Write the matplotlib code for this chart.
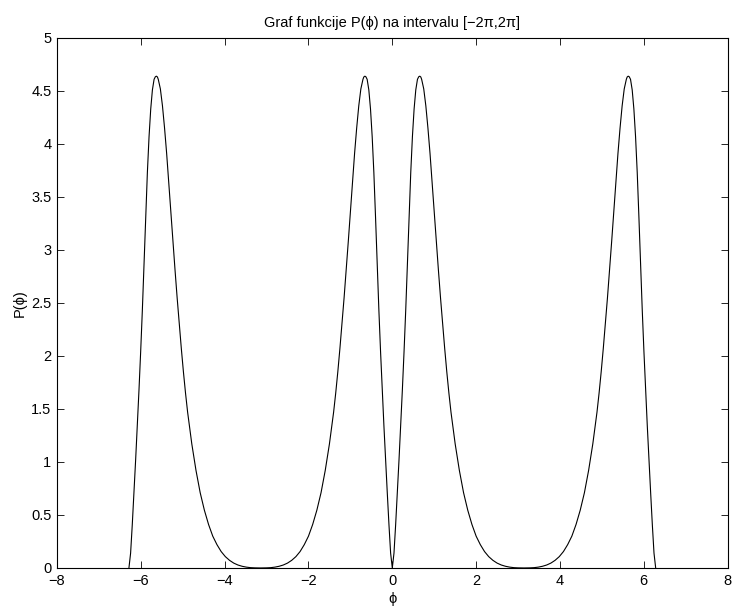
import matplotlib.pyplot as plt

plt.rcParams.update({
    'font.family': ['Liberation Sans', 'DejaVu Sans'],
    'font.size': 10.5,
    'axes.linewidth': 0.8,
    'xtick.direction': 'in',
    'ytick.direction': 'in',
    'xtick.top': True,
    'ytick.right': True,
    'xtick.major.size': 5,
    'ytick.major.size': 5,
    'xtick.major.width': 0.6,
    'ytick.major.width': 0.6,
    'figure.facecolor': 'white',
})

# curve, lobe by lobe
# outer left lobe, -2pi .. -pi
phi_a = [-6.283, -6.243, -6.203, -6.163, -6.123, -6.083, -6.043, -6.003, -5.963,
         -5.923, -5.883, -5.843, -5.803, -5.763, -5.723, -5.683, -5.653, -5.628,
         -5.603, -5.583, -5.533, -5.483, -5.433, -5.383, -5.333, -5.283, -5.233,
         -5.183, -5.133, -5.083, -5.033, -4.983, -4.933, -4.883, -4.783, -4.683,
         -4.583, -4.483, -4.383, -4.283, -4.183, -4.083, -3.983, -3.883, -3.783,
         -3.683, -3.583, -3.483, -3.383, -3.283, -3.142]
p_a = [0.0, 0.14, 0.41, 0.71, 1.02, 1.34, 1.68, 2.04, 2.43, 2.86, 3.31, 3.73, 4.07,
       4.33, 4.51, 4.61, 4.634, 4.64, 4.632, 4.61, 4.52, 4.36, 4.15, 3.91, 3.64, 3.36,
       3.08, 2.81, 2.55, 2.31, 2.07, 1.85, 1.65, 1.47, 1.17, 0.92, 0.71, 0.545, 0.41,
       0.30, 0.22, 0.155, 0.107, 0.072, 0.046, 0.028, 0.016, 0.008, 0.003, 0.001, 0.0]

# inner left lobe, -pi .. 0
phi_b = [-3.142, -3.0, -2.9, -2.8, -2.7, -2.6, -2.5, -2.4, -2.3, -2.2, -2.1, -2.0,
         -1.9, -1.8, -1.7, -1.6, -1.5, -1.4, -1.35, -1.3, -1.25, -1.2, -1.15, -1.1,
         -1.05, -1.0, -0.95, -0.9, -0.85, -0.8, -0.75, -0.7, -0.68, -0.655, -0.63,
         -0.6, -0.56, -0.52, -0.48, -0.44, -0.4, -0.36, -0.32, -0.28, -0.24, -0.2,
         -0.16, -0.12, -0.08, -0.04, 0.0]
p_b = [0.0, 0.001, 0.003, 0.008, 0.016, 0.028, 0.046, 0.072, 0.107, 0.155, 0.22,
       0.30, 0.41, 0.545, 0.71, 0.92, 1.17, 1.47, 1.65, 1.85, 2.07, 2.31, 2.55, 2.81,
       3.08, 3.36, 3.64, 3.91, 4.15, 4.36, 4.52, 4.61, 4.632, 4.64, 4.634, 4.61, 4.51,
       4.33, 4.07, 3.73, 3.31, 2.86, 2.43, 2.04, 1.68, 1.34, 1.02, 0.71, 0.41, 0.14, 0.0]

# inner right lobe, 0 .. pi
phi_c = [0.0, 0.04, 0.08, 0.12, 0.16, 0.2, 0.24, 0.28, 0.32, 0.36, 0.4, 0.44, 0.48,
         0.52, 0.56, 0.6, 0.63, 0.655, 0.68, 0.7, 0.75, 0.8, 0.85, 0.9, 0.95, 1.0,
         1.05, 1.1, 1.15, 1.2, 1.25, 1.3, 1.35, 1.4, 1.5, 1.6, 1.7, 1.8, 1.9, 2.0,
         2.1, 2.2, 2.3, 2.4, 2.5, 2.6, 2.7, 2.8, 2.9, 3.0, 3.142]
p_c = [0.0, 0.14, 0.41, 0.71, 1.02, 1.34, 1.68, 2.04, 2.43, 2.86, 3.31, 3.73, 4.07,
       4.33, 4.51, 4.61, 4.634, 4.64, 4.632, 4.61, 4.52, 4.36, 4.15, 3.91, 3.64, 3.36,
       3.08, 2.81, 2.55, 2.31, 2.07, 1.85, 1.65, 1.47, 1.17, 0.92, 0.71, 0.545, 0.41,
       0.30, 0.22, 0.155, 0.107, 0.072, 0.046, 0.028, 0.016, 0.008, 0.003, 0.001, 0.0]

# outer right lobe, pi .. 2pi
phi_d = [3.142, 3.283, 3.383, 3.483, 3.583, 3.683, 3.783, 3.883, 3.983, 4.083, 4.183,
         4.283, 4.383, 4.483, 4.583, 4.683, 4.783, 4.883, 4.933, 4.983, 5.033, 5.083,
         5.133, 5.183, 5.233, 5.283, 5.333, 5.383, 5.433, 5.483, 5.533, 5.583, 5.603,
         5.628, 5.653, 5.683, 5.723, 5.763, 5.803, 5.843, 5.883, 5.923, 5.963, 6.003,
         6.043, 6.083, 6.123, 6.163, 6.203, 6.243, 6.283]
p_d = [0.0, 0.001, 0.003, 0.008, 0.016, 0.028, 0.046, 0.072, 0.107, 0.155, 0.22,
       0.30, 0.41, 0.545, 0.71, 0.92, 1.17, 1.47, 1.65, 1.85, 2.07, 2.31, 2.55, 2.81,
       3.08, 3.36, 3.64, 3.91, 4.15, 4.36, 4.52, 4.61, 4.632, 4.64, 4.634, 4.61, 4.51,
       4.33, 4.07, 3.73, 3.31, 2.86, 2.43, 2.04, 1.68, 1.34, 1.02, 0.71, 0.41, 0.14, 0.0]

x_ticks = [-8, -6, -4, -2, 0, 2, 4, 6, 8]
y_ticks = [0, 0.5, 1, 1.5, 2, 2.5, 3, 3.5, 4, 4.5, 5]
y_tick_labels = ['0', '0.5', '1', '1.5', '2', '2.5', '3', '3.5', '4', '4.5', '5']

fig = plt.figure(figsize=(7.33, 6.07), dpi=100)
ax = fig.add_axes([0.0777, 0.0643, 0.9150, 0.8731])

phi = phi_a + phi_b[1:] + phi_c[1:] + phi_d[1:]
p = p_a + p_b[1:] + p_c[1:] + p_d[1:]
ax.plot(phi, p, color='black', linewidth=0.8)

ax.set_xlim(-8, 8)
ax.set_ylim(0, 5)
ax.set_xticks(x_ticks)
ax.set_yticks(y_ticks)
ax.set_yticklabels(y_tick_labels)
ax.tick_params(axis='x', labelsize=10.5, pad=4)
ax.tick_params(axis='y', labelsize=10.5, pad=4)

ax.set_title('Graf funkcije P(ϕ) na intervalu [−2π,2π]', fontsize=10.5, pad=8)
ax.set_xlabel('ϕ', fontsize=10.5, labelpad=3)
ax.set_ylabel('P(ϕ)', fontsize=10.5, labelpad=3)

fig.savefig('out.png', dpi=100)
